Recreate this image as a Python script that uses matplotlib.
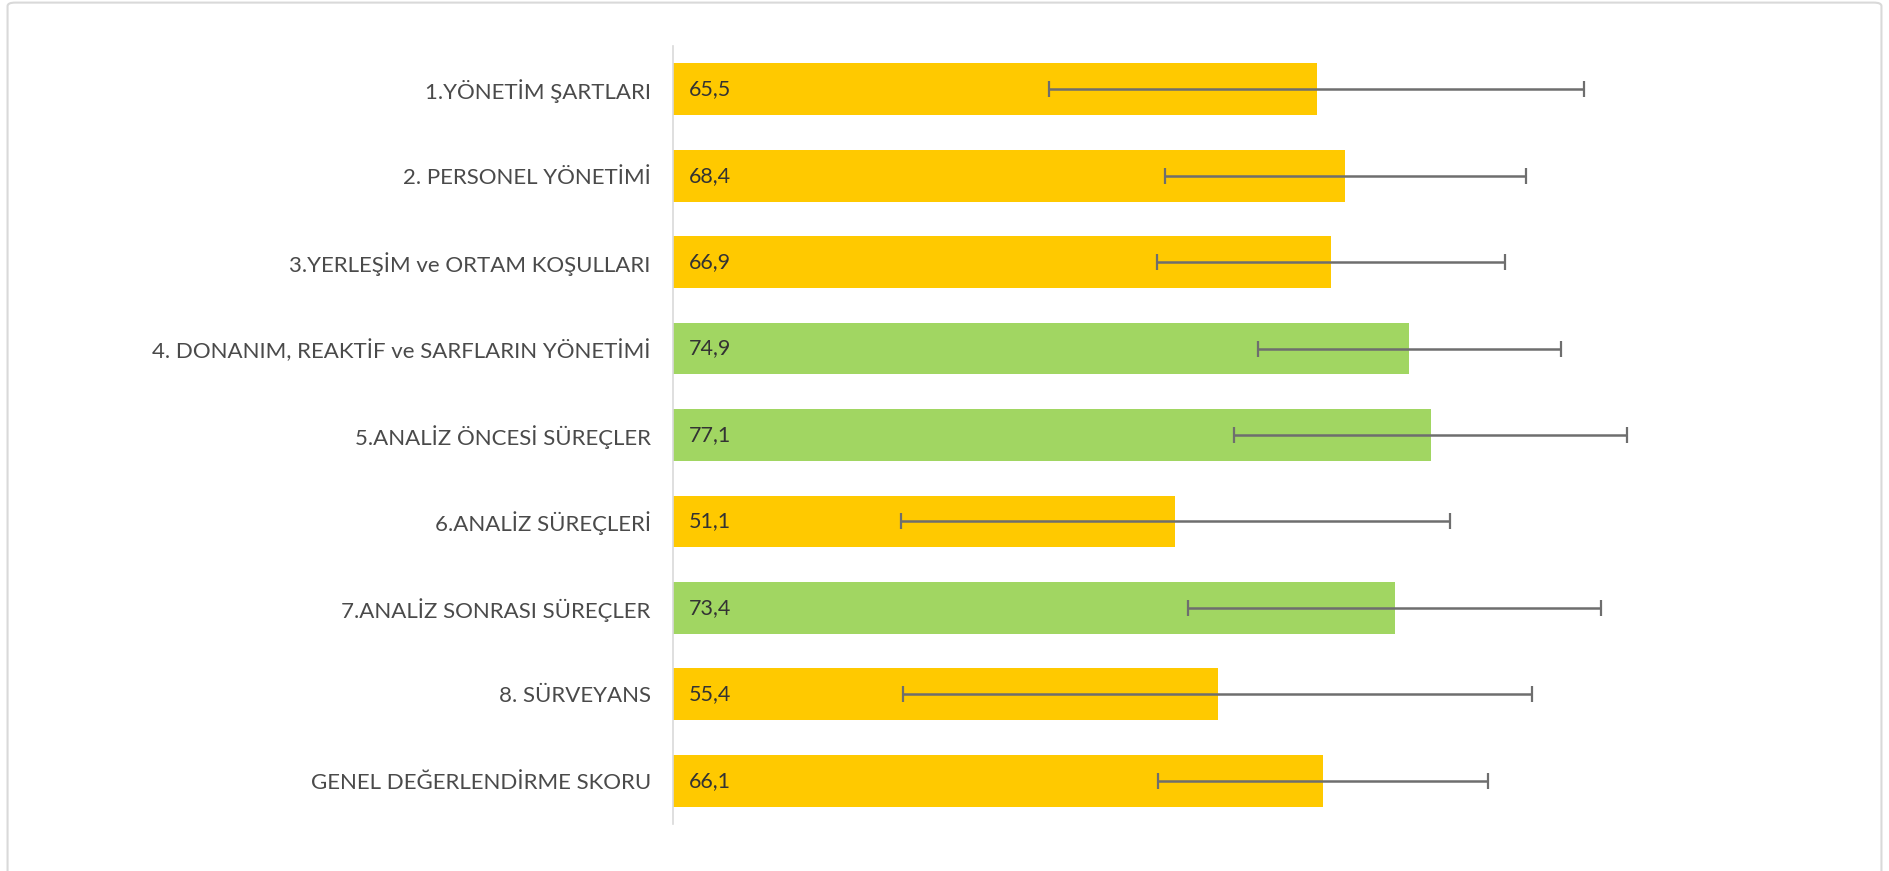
import matplotlib
matplotlib.use('Agg')
import matplotlib.pyplot as plt
from matplotlib.patches import FancyBboxPatch

# Data
categories = ['1.YÖNETİM ŞARTLARI', '2. PERSONEL YÖNETİMİ', '3.YERLEŞİM ve ORTAM KOŞULLARI',
              '4. DONANIM, REAKTİF ve SARFLARIN YÖNETİMİ', '5.ANALİZ ÖNCESİ SÜREÇLER',
              '6.ANALİZ SÜREÇLERİ', '7.ANALİZ SONRASI SÜREÇLER', '8. SÜRVEYANS',
              'GENEL DEĞERLENDİRME SKORU']
scores = [65.5, 68.4, 66.9, 74.9, 77.1, 51.1, 73.4, 55.4, 66.1]
errors = [27.2, 18.4, 17.7, 15.4, 20.0, 27.9, 21.0, 32.0, 16.8]
labels = ['65,5', '68,4', '66,9', '74,9', '77,1', '51,1', '73,4', '55,4', '66,1']

yellow = '#FFC900'
green = '#A1D662'
colors = [yellow, yellow, yellow, green, green, yellow, green, yellow, yellow]

plt.rcParams['font.family'] = ['Lato', 'DejaVu Sans']

fig = plt.figure(figsize=(18.89, 8.71), dpi=100)
ax = fig.add_axes([673 / 1889, 1 - 824 / 871, 983 / 1889, 778 / 871])

y = list(range(len(categories)))
ax.barh(y, scores, height=0.6, color=colors, zorder=2)
ax.errorbar(scores, y, xerr=errors, fmt='none', ecolor='#6E6E6E',
            elinewidth=1.8, capsize=6, capthick=1.6, zorder=3)

for yi, lab in zip(y, labels):
    ax.text(1.6, yi, lab, va='center', ha='left', fontsize=15.5,
            color='#333333', zorder=4)

ax.set_yticks(y)
ax.set_yticklabels(categories, fontsize=16, color='#4A4A4A')
ax.set_ylim(8.5, -0.5)
ax.set_xlim(0, 100)
ax.set_xticks([])
ax.tick_params(axis='y', length=0, pad=16)

for s in ['top', 'right', 'bottom']:
    ax.spines[s].set_visible(False)
ax.spines['left'].set_color('#D9D9D9')
ax.spines['left'].set_linewidth(1.2)

# light frame around the chart
frame = FancyBboxPatch((0.004, -0.02), 0.992, 1.017, boxstyle='round,pad=0,rounding_size=0.004',
                       transform=fig.transFigure, fill=False, edgecolor='#D9D9D9',
                       linewidth=1.5, clip_on=False)
fig.patches.append(frame)

fig.savefig('out.png', dpi=100)
